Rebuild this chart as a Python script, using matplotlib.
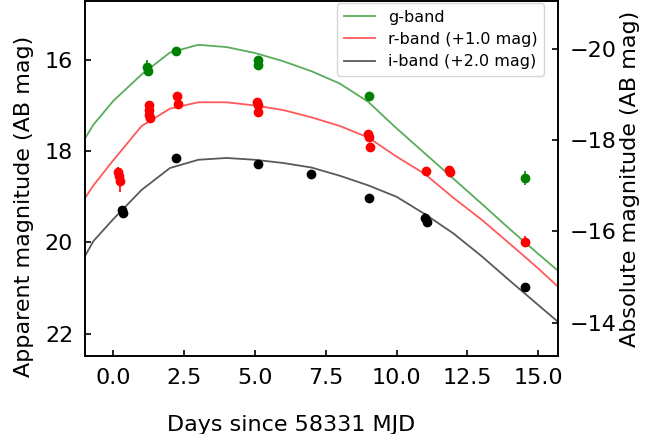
import matplotlib
matplotlib.use("Agg")
import matplotlib.pyplot as plt
import numpy as np

# distance modulus linking apparent and absolute magnitude
dist_mod = 35.76

r_offset = 1.0
i_offset = 2.0

# observed photometry (apparent AB mag, no offsets applied)
g_t = [1.18, 1.21, 2.22, 5.10, 5.10, 9.03, 14.55]
g_mag = [16.15, 16.24, 15.80, 16.01, 16.12, 16.80, 18.59]
g_err = [0.15, 0.10, 0.03, 0.03, 0.03, 0.04, 0.15]

r_t = [0.18, 0.20, 0.22, 1.25, 1.26, 1.27, 1.28, 2.25, 2.27,
       5.08, 5.10, 5.10, 9.00, 9.03, 9.05, 11.04, 11.84, 11.88, 14.52]
r_mag = [17.45, 17.55, 17.65, 16.00, 16.10, 16.20, 16.28, 15.80, 15.97,
         15.92, 15.98, 16.14, 16.63, 16.68, 16.92, 17.44, 17.42, 17.46, 18.99]
r_err = [0.10, 0.10, 0.25, 0.05, 0.05, 0.05, 0.05, 0.04, 0.04,
         0.04, 0.04, 0.04, 0.04, 0.04, 0.04, 0.05, 0.05, 0.05, 0.12]

i_t = [0.30, 0.36, 2.22, 5.12, 6.98, 9.03, 11.02, 11.06, 14.53]
i_mag = [17.30, 17.36, 16.15, 16.29, 16.51, 17.02, 17.46, 17.56, 18.97]
i_err = [0.10, 0.08, 0.03, 0.03, 0.03, 0.04, 0.10, 0.08, 0.05]

# model light curves (apparent AB mag, no offsets applied)
model_t = [-1.0, -0.7, 0, 1, 2, 3, 4, 5, 6, 7, 8, 9, 10, 11, 12, 13, 14, 15, 15.7]
model_g = [17.72, 17.42, 16.90, 16.32, 15.84, 15.67, 15.72, 15.85, 16.03, 16.25,
           16.52, 16.92, 17.50, 18.05, 18.60, 19.15, 19.71, 20.25, 20.62]
model_r = [18.03, 17.75, 17.20, 16.45, 16.07, 15.93, 15.93, 16.00, 16.10, 16.26,
           16.45, 16.70, 17.12, 17.50, 18.02, 18.50, 19.03, 19.57, 19.97]
model_i = [18.30, 17.97, 17.49, 16.85, 16.37, 16.19, 16.15, 16.19, 16.26, 16.36,
           16.54, 16.75, 17.00, 17.38, 17.80, 18.30, 18.84, 19.37, 19.74]

fig, ax = plt.subplots(figsize=(6.68, 4.34), dpi=100)
fig.subplots_adjust(left=0.1272, right=0.8353, top=0.9988, bottom=0.1786)

ax.plot(model_t, model_g, color="green", alpha=0.65, lw=1.3, label="g-band")
ax.plot(model_t, np.array(model_r) + r_offset, color="red", alpha=0.65, lw=1.3,
        label="r-band (+1.0 mag)")
ax.plot(model_t, np.array(model_i) + i_offset, color="black", alpha=0.65, lw=1.3,
        label="i-band (+2.0 mag)")

ax.errorbar(g_t, g_mag, yerr=g_err, fmt="o", color="green", ms=6, elinewidth=1.2, capsize=0)
ax.errorbar(r_t, np.array(r_mag) + r_offset, yerr=r_err, fmt="o", color="red", ms=6,
            elinewidth=1.2, capsize=0)
ax.errorbar(i_t, np.array(i_mag) + i_offset, yerr=i_err, fmt="o", color="black", ms=6,
            elinewidth=1.2, capsize=0)

ax.set_xlim(-1.0, 15.7)
ax.set_ylim(22.5, 14.7)
ax.set_yticks([16, 18, 20, 22])
ax.set_xlabel("Days since 58331 MJD", fontsize=16)
ax.set_ylabel("Apparent magnitude (AB mag)", fontsize=16)
ax.xaxis.set_label_coords(0.4355, -0.163)
ax.yaxis.set_label_coords(-0.108, 0.421)
ax.tick_params(direction="in", labelsize=16, length=4, width=1.2, pad=8.5)

ax2 = ax.twinx()
lo, hi = ax.get_ylim()
ax2.set_ylim(lo - dist_mod, hi - dist_mod)
ax2.set_yticks([-20, -18, -16, -14])
ax2.set_ylabel("Absolute magnitude (AB mag)", fontsize=16)
ax2.yaxis.set_label_coords(1.132, 0.5)
ax2.tick_params(direction="in", labelsize=16, length=4, width=1.2, pad=8.5)

for a in (ax, ax2):
    for s in a.spines.values():
        s.set_linewidth(1.2)

ax.legend(loc="upper right", bbox_to_anchor=(0.971, 0.992), borderaxespad=0,
          fontsize=11.5, labelspacing=0.45, framealpha=0.8)

fig.savefig("out.png", dpi=100)
